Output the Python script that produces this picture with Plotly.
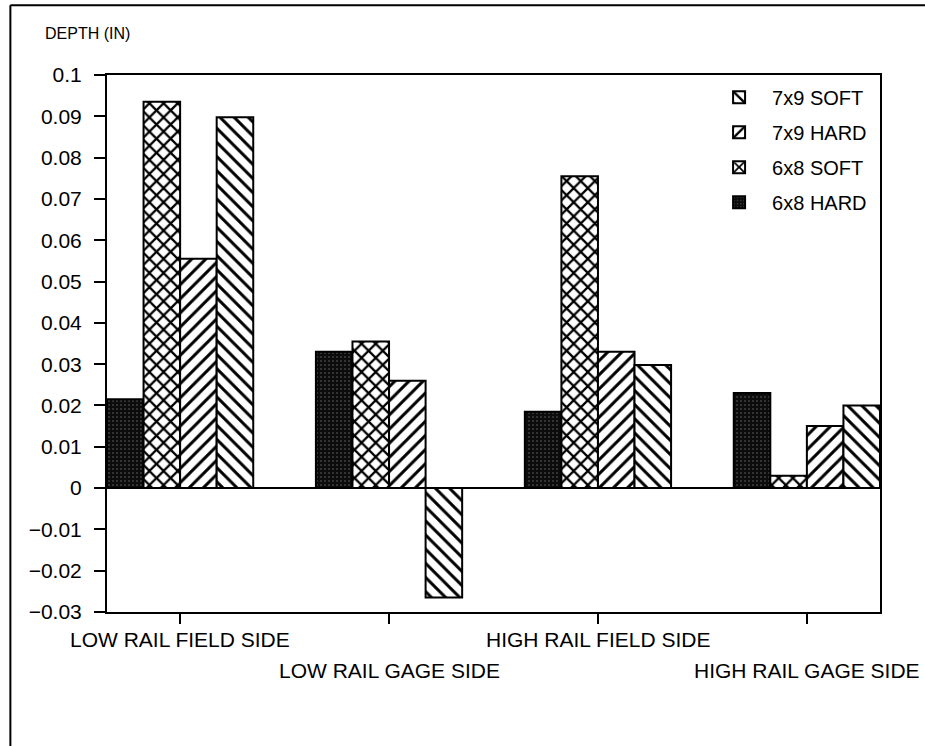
import plotly.graph_objects as go

categories = ["LOW RAIL FIELD SIDE", "LOW RAIL GAGE SIDE", "HIGH RAIL FIELD SIDE", "HIGH RAIL GAGE SIDE"]
label_rows = [0, 1, 0, 1]

hard_6x8 = [0.0215, 0.033, 0.0185, 0.023]
soft_6x8 = [0.0935, 0.0355, 0.0755, 0.003]
hard_7x9 = [0.0555, 0.026, 0.033, 0.015]
soft_7x9 = [0.0898, -0.0265, 0.0298, 0.020]

series_names = ["6x8 HARD", "6x8 SOFT", "7x9 HARD", "7x9 SOFT"]
series_values = [hard_6x8, soft_6x8, hard_7x9, soft_7x9]
legend_ranks = [4, 3, 2, 1]

ytick_vals = [0.1, 0.09, 0.08, 0.07, 0.06, 0.05, 0.04, 0.03, 0.02, 0.01, 0, -0.01, -0.02, -0.03]
ytick_text = ["0.1", "0.09", "0.08", "0.07", "0.06", "0.05", "0.04", "0.03", "0.02", "0.01", "0", "−0.01", "−0.02", "−0.03"]

FONT = "Liberation Sans, Arial, sans-serif"

patterns = {
    "6x8 HARD": dict(shape=".", fgcolor="#6a6a6a", bgcolor="#0c0c0c", size=4, solidity=0.12, fillmode="replace"),
    "6x8 SOFT": dict(shape="x", fgcolor="black", bgcolor="white", size=10, solidity=0.4, fillmode="replace"),
    "7x9 HARD": dict(shape="/", fgcolor="black", bgcolor="white", size=10, solidity=0.3, fillmode="replace"),
    "7x9 SOFT": dict(shape="\\", fgcolor="black", bgcolor="white", size=10, solidity=0.3, fillmode="replace"),
}

fig = go.Figure()
for name, vals, rank in zip(series_names, series_values, legend_ranks):
    fig.add_trace(go.Bar(
        x=categories, y=vals, name=name, legendgroup=name, legendrank=rank,
        marker=dict(color="white" if name != "6x8 HARD" else "#0c0c0c",
                    line=dict(color="black", width=2),
                    pattern=patterns[name]),
    ))

annotations = []
for cat, row in zip(categories, label_rows):
    annotations.append(dict(
        x=cat, xref="x", y=0, yref="paper", yanchor="middle", xanchor="center",
        yshift=-27 - 31 * row, text=cat, showarrow=False,
        font=dict(family=FONT, size=21, color="black"),
    ))
annotations.append(dict(
    x=-0.083, xref="paper", y=1.078, yref="paper", xanchor="left", yanchor="middle",
    text="DEPTH (IN)", showarrow=False, font=dict(family=FONT, size=16, color="black"),
))

fig.update_layout(
    width=925, height=746,
    margin=dict(l=107, r=45, t=75, b=134),
    paper_bgcolor="white", plot_bgcolor="white",
    barmode="group", bargap=0.3, bargroupgap=0,
    font=dict(family=FONT, color="black"),
    showlegend=True,
    legend=dict(
        x=0.775, y=0.995, xanchor="left", yanchor="top",
        traceorder="grouped", tracegroupgap=6,
        font=dict(family=FONT, size=20, color="black"),
        bgcolor="rgba(0,0,0,0)", borderwidth=0, itemwidth=56,
    ),
    annotations=annotations,
    shapes=[
        dict(type="line", xref="paper", yref="paper", x0=-0.125, x1=1.06, y0=1.13, y1=1.13,
             line=dict(color="black", width=2)),
        dict(type="line", xref="paper", yref="paper", x0=-0.125, x1=-0.125, y0=1.13, y1=-0.25,
             line=dict(color="black", width=2)),
    ],
)

fig.update_xaxes(
    range=[-0.35, 3.35], showticklabels=False, ticks="outside", ticklen=10, tickwidth=2,
    tickcolor="black", showline=True, linecolor="black", linewidth=2, mirror=True,
    showgrid=False, zeroline=False,
)
fig.update_yaxes(
    range=[-0.03, 0.1], tickvals=ytick_vals, ticktext=ytick_text, ticks="outside",
    ticklen=11, tickwidth=2, tickcolor="black", showline=True, linecolor="black",
    linewidth=2, mirror=True, showgrid=False, zeroline=True, zerolinecolor="black",
    zerolinewidth=2, ticklabelstandoff=8, tickfont=dict(family=FONT, size=21, color="black"),
)

fig.write_html("out.html", config={"displayModeBar": False},
               post_script="document.body.style.margin='0';")
